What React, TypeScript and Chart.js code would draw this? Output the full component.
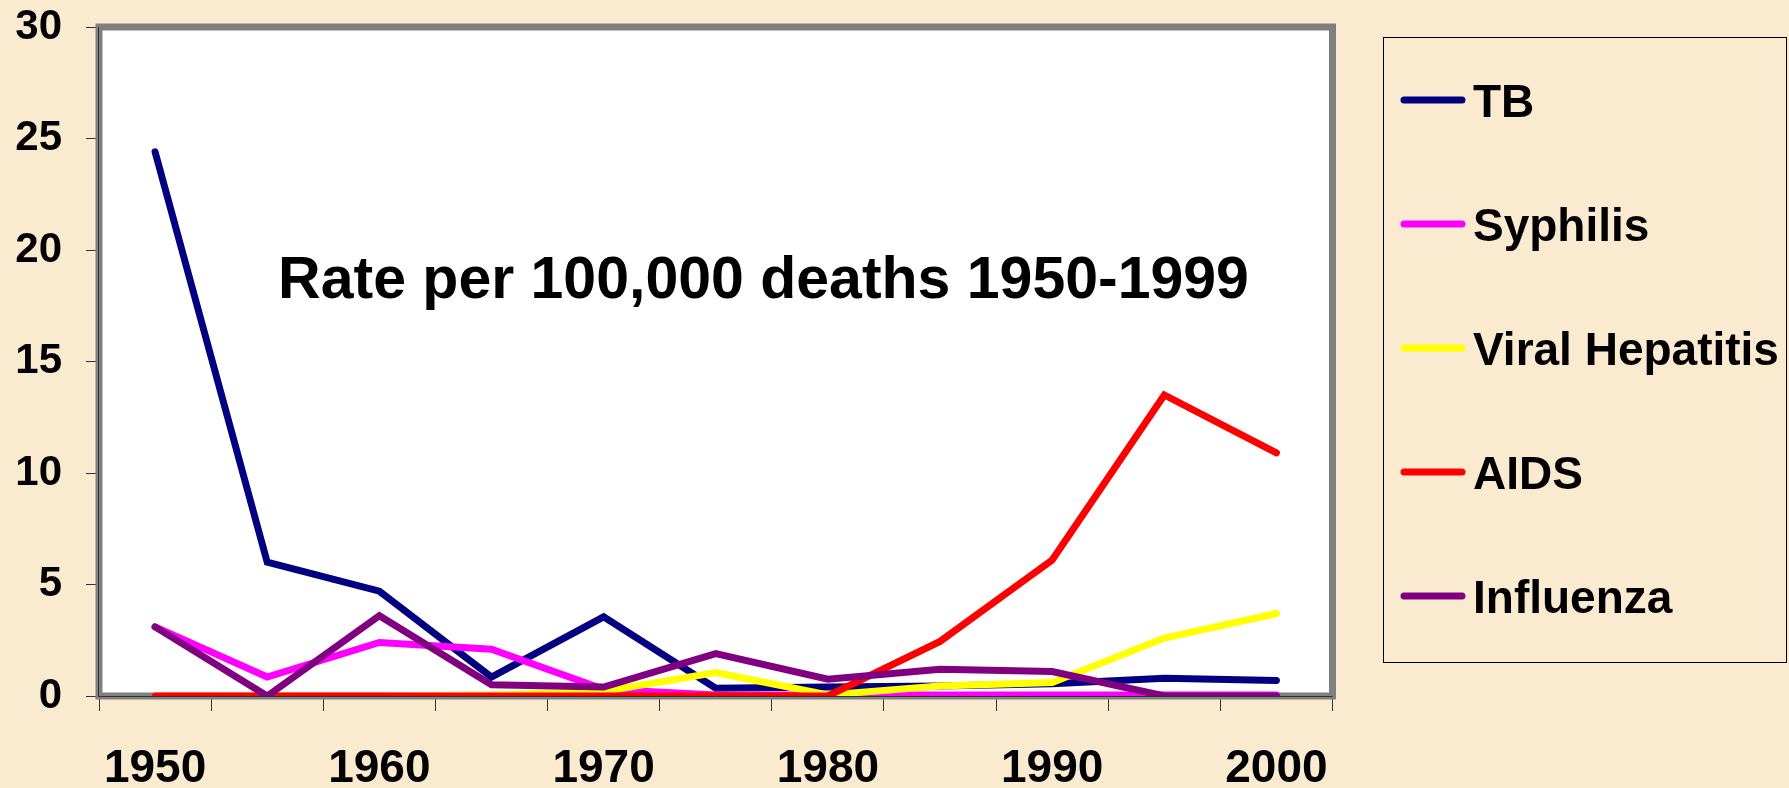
import { useEffect, useRef } from "react";
import { Chart, registerables } from "chart.js";

Chart.register(...registerables);

// ---------- data ----------
const categories = ["1950", "1955", "1960", "1965", "1970", "1975", "1980", "1985", "1990", "1995", "2000"];
const xTickLabels = ["1950", "", "1960", "", "1970", "", "1980", "", "1990", "", "2000"];
const tbValues = [24.4, 6.0, 4.7, 0.85, 3.55, 0.35, 0.4, 0.45, 0.55, 0.8, 0.7];
const syphilisValues = [3.1, 0.85, 2.4, 2.1, 0.3, 0.05, 0.05, 0.05, 0.05, 0.05, 0.05];
const hepatitisValues = [0, 0, 0, 0.05, 0.2, 1.05, 0.05, 0.45, 0.6, 2.6, 3.7];
const aidsValues = [0, 0, 0, 0, 0, 0, 0, 2.45, 6.1, 13.5, 10.9];
const influenzaValues = [3.1, 0, 3.6, 0.5, 0.4, 1.9, 0.75, 1.2, 1.1, 0, 0];
const seriesNames = ["TB", "Syphilis", "Viral Hepatitis", "AIDS", "Influenza"];
const seriesColors = ["#000080", "#FF00FF", "#FFFF00", "#FF0000", "#800080"];
const yMin = 0;
const yMax = 30;
const yStep = 5;
const titleText = "Rate per 100,000 deaths 1950-1999";

const FONT = '"Liberation Sans", Arial, Helvetica, sans-serif';
const BG = "#FAEBD0";

const decorPlugin = {
  id: "decor",
  beforeDraw(chart: any) {
    const { ctx, chartArea: a } = chart;
    ctx.save();
    ctx.fillStyle = BG;
    ctx.fillRect(0, 0, chart.width, chart.height);
    ctx.fillStyle = "#FFFFFF";
    ctx.fillRect(a.left, a.top, a.right - a.left, a.bottom - a.top);
    ctx.restore();
  },
  beforeDatasetsDraw(chart: any) {
    const { ctx, chartArea: a } = chart;
    ctx.save();
    // plot area frame
    ctx.strokeStyle = "#808080";
    ctx.lineWidth = 7;
    ctx.strokeRect(a.left, a.top, a.right - a.left, a.bottom - a.top);
    // thin axis lines
    ctx.strokeStyle = "#333333";
    ctx.lineWidth = 1;
    ctx.beginPath();
    ctx.moveTo(a.left - 0.5, a.top);
    ctx.lineTo(a.left - 0.5, a.bottom + 0.5);
    ctx.lineTo(a.right, a.bottom + 0.5);
    ctx.stroke();
    // title inside plot
    ctx.fillStyle = "#000000";
    ctx.font = `bold 59px ${FONT}`;
    ctx.textAlign = "center";
    ctx.textBaseline = "alphabetic";
    ctx.fillText(titleText, a.left + 664.5, a.top + 271);
    ctx.restore();
  },
  afterDraw(chart: any) {
    const { ctx } = chart;
    ctx.save();
    ctx.strokeStyle = "#000000";
    ctx.lineWidth = 1;
    ctx.strokeRect(1383.5, 37.5, 403, 625);
    chart.data.datasets.forEach((ds: any, i: number) => {
      const y = 100 + i * 124;
      ctx.strokeStyle = ds.borderColor;
      ctx.lineWidth = 7;
      ctx.lineCap = "round";
      ctx.beginPath();
      ctx.moveTo(1404, y);
      ctx.lineTo(1462, y);
      ctx.stroke();
      ctx.fillStyle = "#000000";
      ctx.font = `bold 46px ${FONT}`;
      ctx.textAlign = "left";
      ctx.textBaseline = "alphabetic";
      ctx.fillText(ds.label, 1473, y + 16.5);
    });
    ctx.restore();
  },
};

export default function App() {
  const canvasRef = useRef<HTMLCanvasElement | null>(null);

  useEffect(() => {
    document.body.style.margin = "0";
    document.body.style.background = BG;
    const canvas = canvasRef.current;
    if (!canvas) return;
    const valuesList = [tbValues, syphilisValues, hepatitisValues, aidsValues, influenzaValues];
    const chart = new Chart(canvas, {
      type: "line",
      data: {
        labels: categories,
        datasets: seriesNames.map((name, i) => ({
          label: name,
          data: valuesList[i],
          borderColor: seriesColors[i],
          backgroundColor: seriesColors[i],
          borderWidth: 7,
          borderCapStyle: "round",
          borderJoinStyle: "miter",
          pointRadius: 0,
          pointHoverRadius: 0,
          tension: 0,
          fill: false,
          order: seriesNames.length - 1 - i,
        })),
      },
      options: {
        animation: false,
        responsive: false,
        devicePixelRatio: 1,
        layout: { padding: { top: 27, right: 456.5, left: 0, bottom: 0 } },
        plugins: {
          legend: { display: false },
          title: { display: false },
          tooltip: { enabled: false },
        },
        scales: {
          x: {
            type: "category",
            offset: true,
            grid: {
              offset: true,
              drawOnChartArea: false,
              drawTicks: true,
              tickLength: 15,
              color: "#333333",
              lineWidth: 1,
            },
            border: { display: false },
            ticks: {
              autoSkip: false,
              maxRotation: 0,
              minRotation: 0,
              padding: 31,
              color: "#000000",
              font: { family: FONT, size: 46, weight: "bold" },
              callback: (_v: any, i: number) => xTickLabels[i],
            },
            afterFit: (s: any) => {
              s.height = 92;
              s.paddingLeft = 0;
              s.paddingRight = 0;
            },
          },
          y: {
            min: yMin,
            max: yMax,
            grid: {
              drawOnChartArea: false,
              drawTicks: true,
              tickLength: 13,
              color: "#333333",
              lineWidth: 1,
            },
            border: { display: false },
            ticks: {
              stepSize: yStep,
              padding: 24,
              color: "#000000",
              font: { family: FONT, size: 42, weight: "bold" },
            },
            afterFit: (s: any) => {
              s.width = 99;
              s.paddingTop = 0;
              s.paddingBottom = 0;
            },
          },
        },
      },
      plugins: [decorPlugin],
    } as any);
    return () => chart.destroy();
  }, []);

  return (
    <div style={{ width: 1789, height: 788, background: BG }}>
      <canvas ref={canvasRef} width={1789} height={788} style={{ display: "block" }} />
    </div>
  );
}
